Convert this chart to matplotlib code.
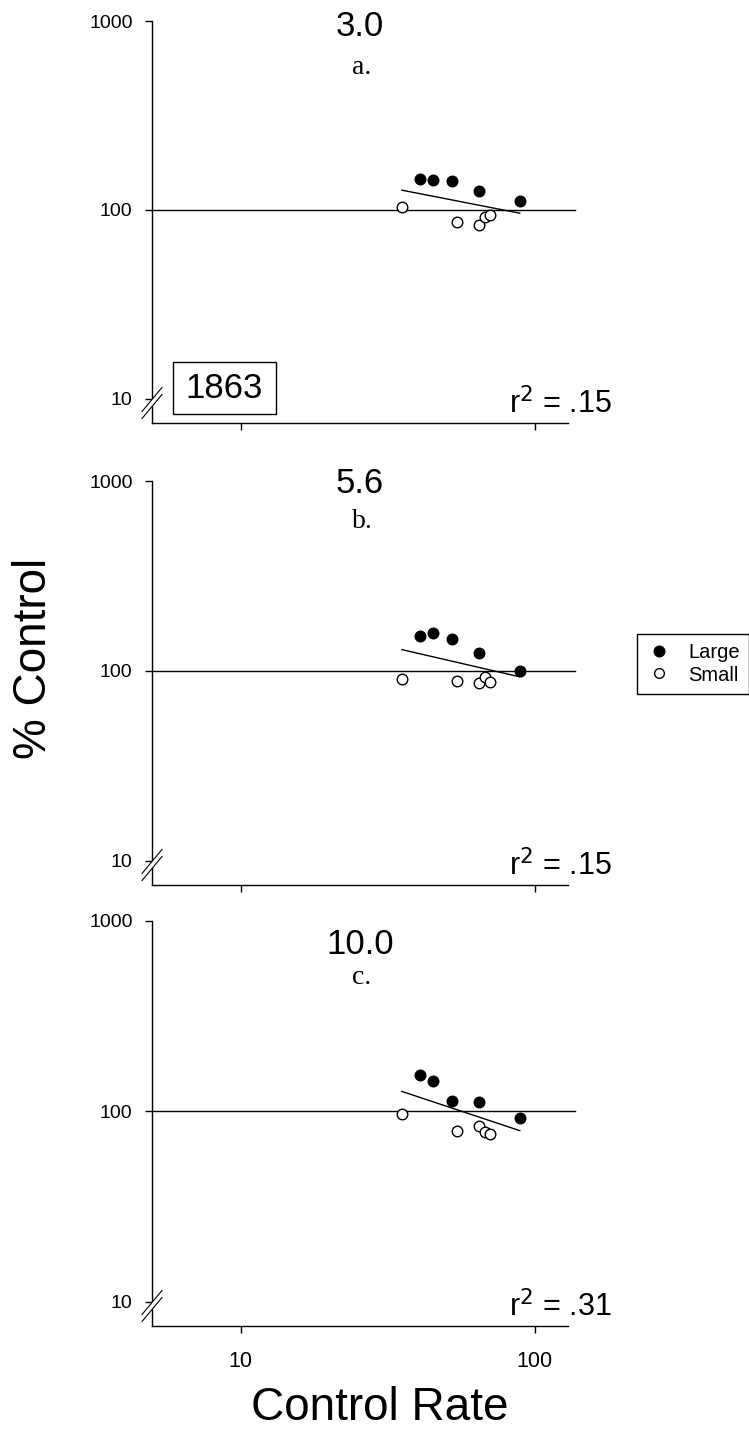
import numpy as np
import matplotlib
matplotlib.use("Agg")
import matplotlib.pyplot as plt
from matplotlib.lines import Line2D
from matplotlib.patches import Rectangle, Polygon
from matplotlib.ticker import FixedLocator, NullLocator, FixedFormatter

plt.rcParams['font.family'] = ['Liberation Sans', 'DejaVu Sans']

# control response rates (same subjects in every panel)
rate_large = [40.7, 45.0, 52.6, 64.5, 89.1]
rate_small = [35.4, 54.3, 64.9, 68.0, 70.4]

# percent of control at each dose
doses = ["3.0", "5.6", "10.0"]
letters = ["a.", "b.", "c."]
r2_labels = [".15", ".15", ".31"]
pct_large = [
    [145, 144, 142, 126, 112],
    [153, 158.6, 147.5, 124.4, 100],
    [155.4, 145, 113.8, 112.5, 92.3],
]
pct_small = [
    [104, 86.5, 83, 91.6, 93.8],
    [90.1, 88.6, 85.8, 93, 87.2],
    [96.9, 78.5, 84.1, 77.5, 76.3],
]

W, H = 749, 1446
fig = plt.figure(figsize=(W / 100, H / 100), dpi=100)
fig.patch.set_facecolor('white')

# panel boxes in pixels: (top, bottom) of each axes
boxes = [(21, 423), (481, 885), (921, 1326)]
title_y = [27, 484, 944]
letter_y = [68, 521, 977]
left_px, right_px = 152, 568


def px2fig(x, y):
    return x / W, 1 - y / H


def axis_break(ax, h_px, w_px):
    # two slashes across the y axis just under 10
    cy = 20.0
    dx, dy, off = 10.0, 12.0, 3.5
    fx = lambda v: v / w_px
    fy = lambda v: v / h_px
    mask = Polygon([(fx(-dx), fy(cy - off - dy)), (fx(dx), fy(cy - off + dy)),
                    (fx(dx), fy(cy + off + dy)), (fx(-dx), fy(cy + off - dy))],
                   closed=True, transform=ax.transAxes, facecolor='white',
                   edgecolor='none', clip_on=False, zorder=5)
    ax.add_patch(mask)
    for o in (-off, off):
        ax.plot([fx(-dx), fx(dx)], [fy(cy + o - dy), fy(cy + o + dy)],
                transform=ax.transAxes, color='black', lw=0.8,
                clip_on=False, zorder=6)


axes = []
for i in range(3):
    top, bot = boxes[i]
    l, b = px2fig(left_px, bot)
    ax = fig.add_axes([l, b, (right_px - left_px) / W, (bot - top) / H])
    axes.append(ax)
    ax.set_xscale('log')
    ax.set_yscale('log')
    ax.set_xlim(5, 130)
    ax.set_ylim(7.45, 1000)
    for s in ('top', 'right'):
        ax.spines[s].set_visible(False)
    for s in ('left', 'bottom'):
        ax.spines[s].set_linewidth(1)

    ax.xaxis.set_major_locator(FixedLocator([10, 100]))
    ax.xaxis.set_minor_locator(NullLocator())
    ax.yaxis.set_major_locator(FixedLocator([10, 100, 1000]))
    ax.yaxis.set_minor_locator(NullLocator())
    ax.yaxis.set_major_formatter(FixedFormatter(["10", "100", "1000"]))
    ax.tick_params(axis='y', direction='out', length=5, width=1, labelsize=14, pad=9)
    ax.tick_params(axis='x', direction='out', length=5, width=1, labelsize=15.5, pad=13)
    if i < 2:
        ax.set_xticklabels([])
    else:
        ax.xaxis.set_major_formatter(FixedFormatter(["10", "100"]))

    # reference line at 100 %
    ax.axhline(100, xmin=0, xmax=1.017, color='black', lw=1, clip_on=False, zorder=1)

    # regression on log-log scale through all subjects
    lx = np.log10(rate_large + rate_small)
    ly = np.log10(pct_large[i] + pct_small[i])
    slope, icpt = np.polyfit(lx, ly, 1)
    xs = np.array([lx.min(), lx.max()])
    ax.plot(10 ** xs, 10 ** (icpt + slope * xs), color='black', lw=1, zorder=2)

    ax.plot(rate_large, pct_large[i], 'o', ms=7.6, mfc='black', mec='black',
            mew=1, zorder=4)
    ax.plot(rate_small, pct_small[i], 'o', ms=7.6, mfc='white', mec='black',
            mew=1, zorder=4)

    ax.text(1.0 + (612 - right_px) / (right_px - left_px), 10 / (bot - top),
            r"r$^2$ = " + r2_labels[i], transform=ax.transAxes,
            ha='right', va='baseline', fontsize=22)

    axis_break(ax, bot - top, right_px - left_px)

    fx, fy = px2fig(360, title_y[i])
    fig.text(fx, fy, doses[i], ha='center', va='center', fontsize=25)
    fx, fy = px2fig(362, letter_y[i])
    fig.text(fx, fy, letters[i], ha='center', va='center', fontsize=20,
             family=['Liberation Serif', 'DejaVu Serif'])

# subject number box in the first panel
ax0 = axes[0]
h0 = boxes[0][1] - boxes[0][0]
w0 = right_px - left_px
ax0.add_patch(Rectangle(((172.7 - left_px) / w0, (423 - 414) / h0),
                        103 / w0, 52.3 / h0, transform=ax0.transAxes,
                        facecolor='white', edgecolor='black', lw=1, zorder=7))
ax0.text((224 - left_px) / w0, (423 - 388) / h0, "1863", transform=ax0.transAxes,
         ha='center', va='center', fontsize=25, zorder=8)

handles = [Line2D([], [], marker='o', ls='none', ms=7.6, mfc='black', mec='black'),
           Line2D([], [], marker='o', ls='none', ms=7, mfc='white', mec='black')]
leg = fig.legend(handles, ["Large", "Small"], loc='center',
                 bbox_to_anchor=px2fig(693, 664), frameon=True, fancybox=False,
                 edgecolor='black', framealpha=1, fontsize=14.5, handlelength=1.3,
                 handletextpad=0.8, borderpad=0.45, labelspacing=0.15,
                 borderaxespad=0)
leg.get_frame().set_linewidth(1)

fx, fy = px2fig(34, 658)
fig.text(fx, fy, "% Control", rotation=90, ha='center', va='center', fontsize=33)
fx, fy = px2fig(380, 1408)
fig.text(fx, fy, "Control Rate", ha='center', va='center', fontsize=33)

fig.savefig("out.png", dpi=100, facecolor='white')
